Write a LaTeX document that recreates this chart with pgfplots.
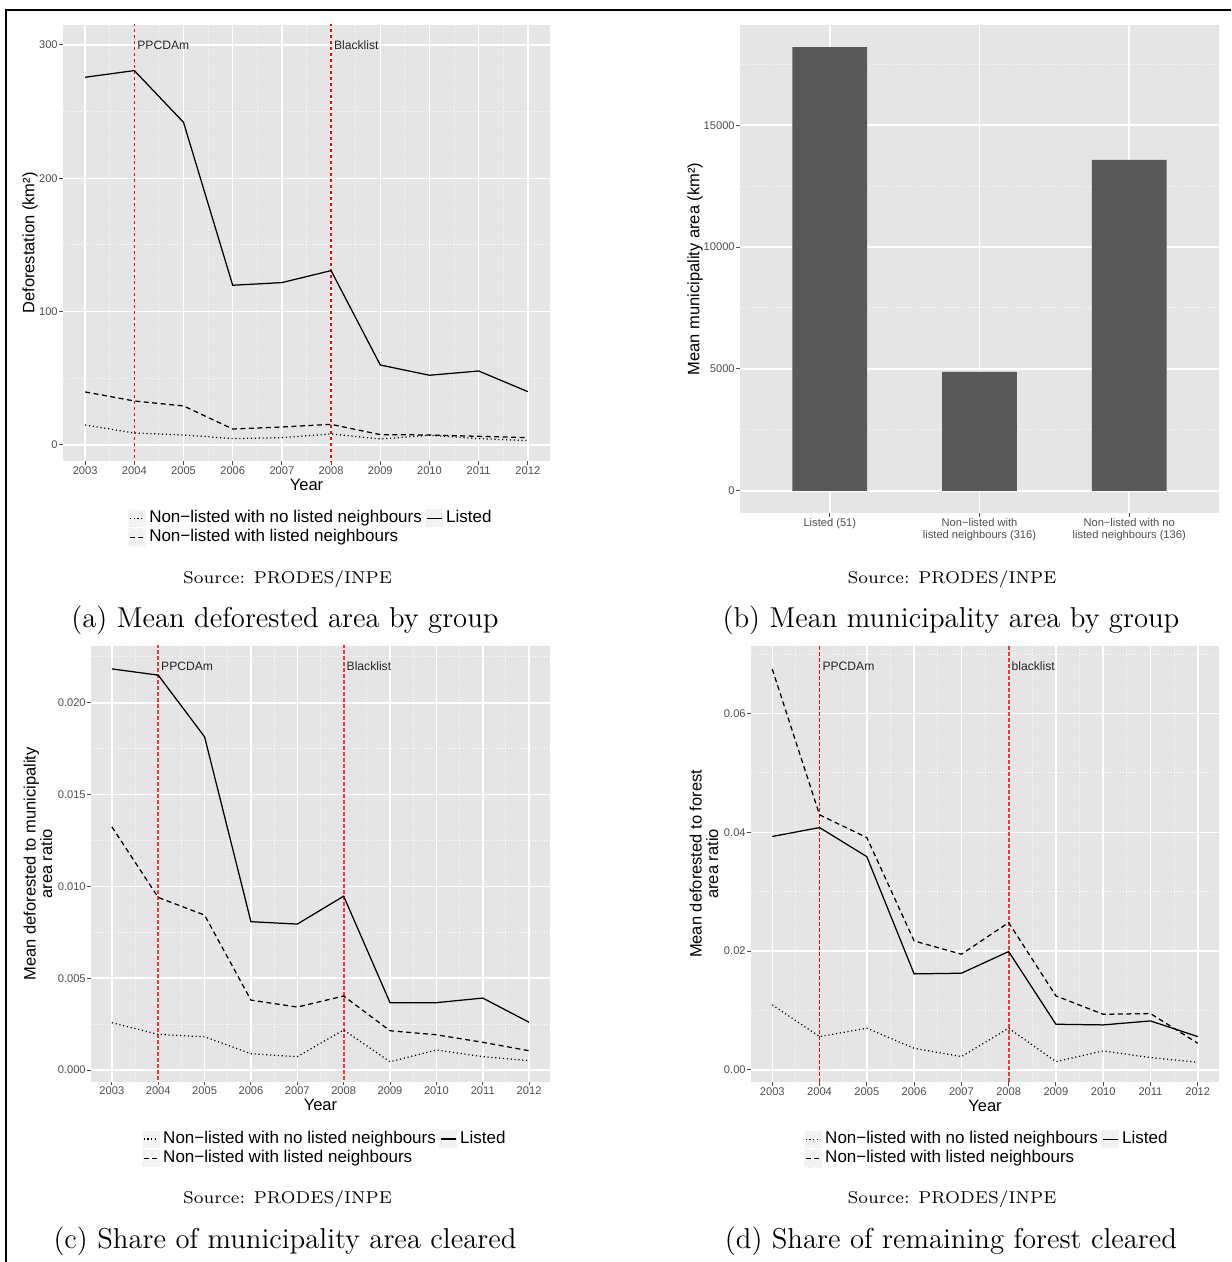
\documentclass[border=0pt]{standalone}
\usepackage{fontspec}
\usepackage{pgfplots}
\usepackage{pgfplotstable}
\pgfplotsset{compat=1.18}
\newfontfamily\ggf{Liberation Sans}
\definecolor{panelbg}{HTML}{E5E5E5}
\definecolor{tickgray}{HTML}{4D4D4D}
\definecolor{keybg}{HTML}{F2F2F2}
\definecolor{barfill}{HTML}{595959}
\definecolor{vred}{HTML}{FF3030}
\newcommand\tickfont{\ggf\fontsize{4.45}{4.8}\selectfont}
\newcommand\titlefont{\ggf\fontsize{6.6}{6.6}\selectfont}
\newcommand\legfont{\ggf\fontsize{6.8}{6.8}\selectfont}
\newcommand\annfont{\ggf\fontsize{4.85}{5.5}\selectfont}

% year, no listed neighbours (nl), listed neighbours (ln), listed (l)
\pgfplotstableread{
year nl ln l
2003 15.0 39.8 275.8
2004 9.0 33.0 280.8
2005 7.5 29.3 242.0
2006 4.8 12.0 119.8
2007 5.5 13.5 121.8
2008 8.3 15.5 130.8
2009 4.5 7.8 60.0
2010 7.3 7.5 52.3
2011 4.8 6.5 55.5
2012 3.3 5.5 40.0
}\tabA
\pgfplotstableread{
year nl ln l
2003 0.00258 0.01325 0.02185
2004 0.00194 0.00940 0.02151
2005 0.00181 0.00844 0.01815
2006 0.00089 0.00381 0.00808
2007 0.00073 0.00343 0.00795
2008 0.00218 0.00403 0.00947
2009 0.00045 0.00214 0.00367
2010 0.00109 0.00192 0.00367
2011 0.00073 0.00151 0.00392
2012 0.00051 0.00105 0.00260
}\tabC
\pgfplotstableread{
year nl ln l
2003 0.01095 0.06747 0.03930
2004 0.00561 0.04294 0.04080
2005 0.00702 0.03912 0.03590
2006 0.00365 0.02172 0.01617
2007 0.00225 0.01948 0.01628
2008 0.00702 0.02481 0.01993
2009 0.00140 0.01246 0.00769
2010 0.00320 0.00937 0.00758
2011 0.00208 0.00949 0.00825
2012 0.00129 0.00449 0.00561
}\tabD
\pgfplotstableread{
grp area
1 18200
2 4880
3 13580
}\tabB

\pgfplotsset{
  ggbase/.style={
    scale only axis,
    scaled ticks=false,
    axis background/.style={fill=panelbg},
    axis line style={draw=none},
    tick align=outside,
    tick pos=left,
    major tick length=1.45pt,
    minor tick length=0pt,
    tick style={black!70, line width=0.4pt},
    xmajorgrids=true, ymajorgrids=true, xminorgrids=true, yminorgrids=true,
    major grid style={white, line width=0.6pt},
    minor grid style={white, line width=0.4pt, dash pattern=on 0.5pt off 0.7pt},
    tick label style={font=\tickfont, text=tickgray},
    yticklabel style={inner sep=0.5pt},
    xticklabel style={inner sep=0.5pt},
    every axis x label/.style={at={(axis description cs:0.5,-0.0539)}, anchor=center, font=\titlefont},
    clip=true,
  },
  ggyears/.style={
    xmin=2002.55, xmax=2012.45,
    xtick={2003,2004,2005,2006,2007,2008,2009,2010,2011,2012},
    xticklabels={2003,2004,2005,2006,2007,2008,2009,2010,2011,2012},
    minor xtick={2003.5,2004.5,2005.5,2006.5,2007.5,2008.5,2009.5,2010.5,2011.5},
    xlabel={Year},
    legend columns=2,
    legend cell align=left,
    legend image code/.code={
      \fill[keybg] (0pt,-3.4pt) rectangle (6.8pt,3.4pt);
      \draw[##1] (0.4pt,0pt) -- (6.4pt,0pt);
    },
    legend style={draw=none, fill=none, inner sep=0pt, outer sep=0pt,
      anchor=north west, font=\legfont, row sep=0.2pt,
      nodes={inner sep=0.6pt, text height=4.9pt, text depth=1.4pt},
      /tikz/every odd column/.append style={column sep=0.6pt},
      /tikz/every even column/.append style={column sep=0.6pt}},
  },
  lsolid/.style={black, line width=0.5pt},
  ldash/.style={black, line width=0.5pt, dash pattern=on 2pt off 1.4pt},
  ldot/.style={black, line width=0.5pt, dash pattern=on 0.45pt off 1.1pt},
  vthin/.style={red, line width=0.55pt, dash pattern=on 1.5pt off 0.9pt, forget plot},
  vthick/.style={vred, line width=0.8pt, dash pattern=on 1.5pt off 0.9pt, forget plot},
}

\begin{document}
\begin{tikzpicture}
\useasboundingbox (0pt,0pt) rectangle (492.4pt,-504.8pt);
\draw[line width=0.65pt] (2.4pt,-504.8pt) -- (2.4pt,-4pt) -- (492.4pt,-4pt);

% ---------- (a) ----------
\begin{axis}[ggbase, ggyears,
  at={(25.2pt,-184.4pt)}, anchor=south west,
  width=194.8pt, height=174.4pt,
  ymin=-12, ymax=315,
  ytick={0,100,200,300}, yticklabels={0,100,200,300},
  minor ytick={50,150,250},
  ylabel={Deforestation (km²)},
  every axis y label/.style={at={(axis description cs:-0.0678,0.5)}, rotate=90, anchor=center, font=\titlefont},
  legend style={at={(axis description cs:0.1335,-0.11)}},
]
\addplot[vthin] coordinates {(2004,-100) (2004,400)};
\addplot[vthin] coordinates {(2008,-100) (2008,400)};
\addplot[ldot] table[x=year,y=nl]{\tabA};
\addlegendentry{Non−listed with no listed neighbours}
\addplot[lsolid] table[x=year,y=l]{\tabA};
\addlegendentry{Listed}
\addplot[ldash] table[x=year,y=ln]{\tabA};
\addlegendentry{Non−listed with listed neighbours}
\node[anchor=west, font=\annfont, text=black!85, inner sep=1pt] at (axis cs:2004,300) {PPCDAm};
\node[anchor=west, font=\annfont, text=black!85, inner sep=1pt] at (axis cs:2008,300) {Blacklist};
\end{axis}

% ---------- (b) ----------
\begin{axis}[ggbase,
  at={(296pt,-205.2pt)}, anchor=south west,
  width=191.6pt, height=195.2pt,
  xmin=0.4, xmax=3.6, ymin=-910, ymax=19110,
  xminorgrids=false,
  xtick={1,2,3},
  xticklabels={{Listed (51)},{Non−listed with\\listed neighbours (316)},{Non−listed with no\\listed neighbours (136)}},
  xticklabel style={align=center},
  ytick={0,5000,10000,15000}, yticklabels={0,5000,10000,15000},
  minor ytick={2500,7500,12500,17500},
  ylabel={Mean municipality area (km²)},
  every axis y label/.style={at={(axis description cs:-0.0939,0.5)}, rotate=90, anchor=center, font=\titlefont},
]
\addplot[ybar, bar width=0.5, fill=barfill, draw=none] table[x=grp,y=area]{\tabB};
\end{axis}

% ---------- (c) ----------
\begin{axis}[ggbase, ggyears,
  at={(36.4pt,-432.8pt)}, anchor=south west,
  width=183.6pt, height=174.4pt,
  ymin=-0.00064, ymax=0.02311,
  ytick={0,0.005,0.01,0.015,0.02}, yticklabels={0.000,0.005,0.010,0.015,0.020},
  minor ytick={0.0025,0.0075,0.0125,0.0175,0.0225},
  ylabel={Mean deforested to municipality\\area ratio},
  every axis y label/.style={at={(axis description cs:-0.1155,0.5)}, rotate=90, anchor=center, align=center, font=\titlefont},
  legend style={at={(axis description cs:0.1111,-0.11)}},
]
\addplot[vthick] coordinates {(2004,-1) (2004,1)};
\addplot[vthick] coordinates {(2008,-1) (2008,1)};
\addplot[ldot] table[x=year,y=nl]{\tabC};
\addlegendentry{Non−listed with no listed neighbours}
\addplot[lsolid] table[x=year,y=l]{\tabC};
\addlegendentry{Listed}
\addplot[ldash] table[x=year,y=ln]{\tabC};
\addlegendentry{Non−listed with listed neighbours}
\node[anchor=west, font=\annfont, text=black!85, inner sep=1pt] at (axis cs:2004,0.022) {PPCDAm};
\node[anchor=west, font=\annfont, text=black!85, inner sep=1pt] at (axis cs:2008,0.022) {Blacklist};
\end{axis}

% ---------- (d) ----------
\begin{axis}[ggbase, ggyears,
  at={(300.4pt,-432.8pt)}, anchor=south west,
  width=187.2pt, height=174.4pt,
  ymin=-0.00202, ymax=0.07138,
  ytick={0,0.02,0.04,0.06}, yticklabels={0.00,0.02,0.04,0.06},
  minor ytick={0.01,0.03,0.05,0.07},
  ylabel={Mean deforested to forest\\area ratio},
  every axis y label/.style={at={(axis description cs:-0.1004,0.5)}, rotate=90, anchor=center, align=center, font=\titlefont},
  legend style={at={(axis description cs:0.1132,-0.11)}},
]
\addplot[vthin] coordinates {(2004,-1) (2004,1)};
\addplot[vthick] coordinates {(2008,-1) (2008,1)};
\addplot[ldot] table[x=year,y=nl]{\tabD};
\addlegendentry{Non−listed with no listed neighbours}
\addplot[lsolid] table[x=year,y=l]{\tabD};
\addlegendentry{Listed}
\addplot[ldash] table[x=year,y=ln]{\tabD};
\addlegendentry{Non−listed with listed neighbours}
\node[anchor=west, font=\annfont, text=black!85, inner sep=1pt] at (axis cs:2004,0.068) {PPCDAm};
\node[anchor=west, font=\annfont, text=black!85, inner sep=1pt] at (axis cs:2008,0.068) {blacklist};
\end{axis}

% ---------- sources and captions ----------
\node[anchor=base, font=\fontsize{6.85}{8}\selectfont] at (115pt,-233.2pt) {Source: PRODES/INPE};
\node[anchor=base, font=\fontsize{6.85}{8}\selectfont] at (380.8pt,-233.2pt) {Source: PRODES/INPE};
\node[anchor=base, font=\fontsize{6.85}{8}\selectfont] at (115pt,-481.2pt) {Source: PRODES/INPE};
\node[anchor=base, font=\fontsize{6.85}{8}\selectfont] at (380.8pt,-481.2pt) {Source: PRODES/INPE};
\node[anchor=base, font=\fontsize{11.5}{13}\selectfont] at (114pt,-250.8pt) {(a) Mean deforested area by group};
\node[anchor=base, font=\fontsize{11.5}{13}\selectfont] at (380.4pt,-250.8pt) {(b) Mean municipality area by group};
\node[anchor=base, font=\fontsize{11.5}{13}\selectfont] at (114pt,-499.2pt) {(c) Share of municipality area cleared};
\node[anchor=base, font=\fontsize{11.5}{13}\selectfont] at (380.4pt,-499.2pt) {(d) Share of remaining forest cleared};
\end{tikzpicture}
\end{document}
